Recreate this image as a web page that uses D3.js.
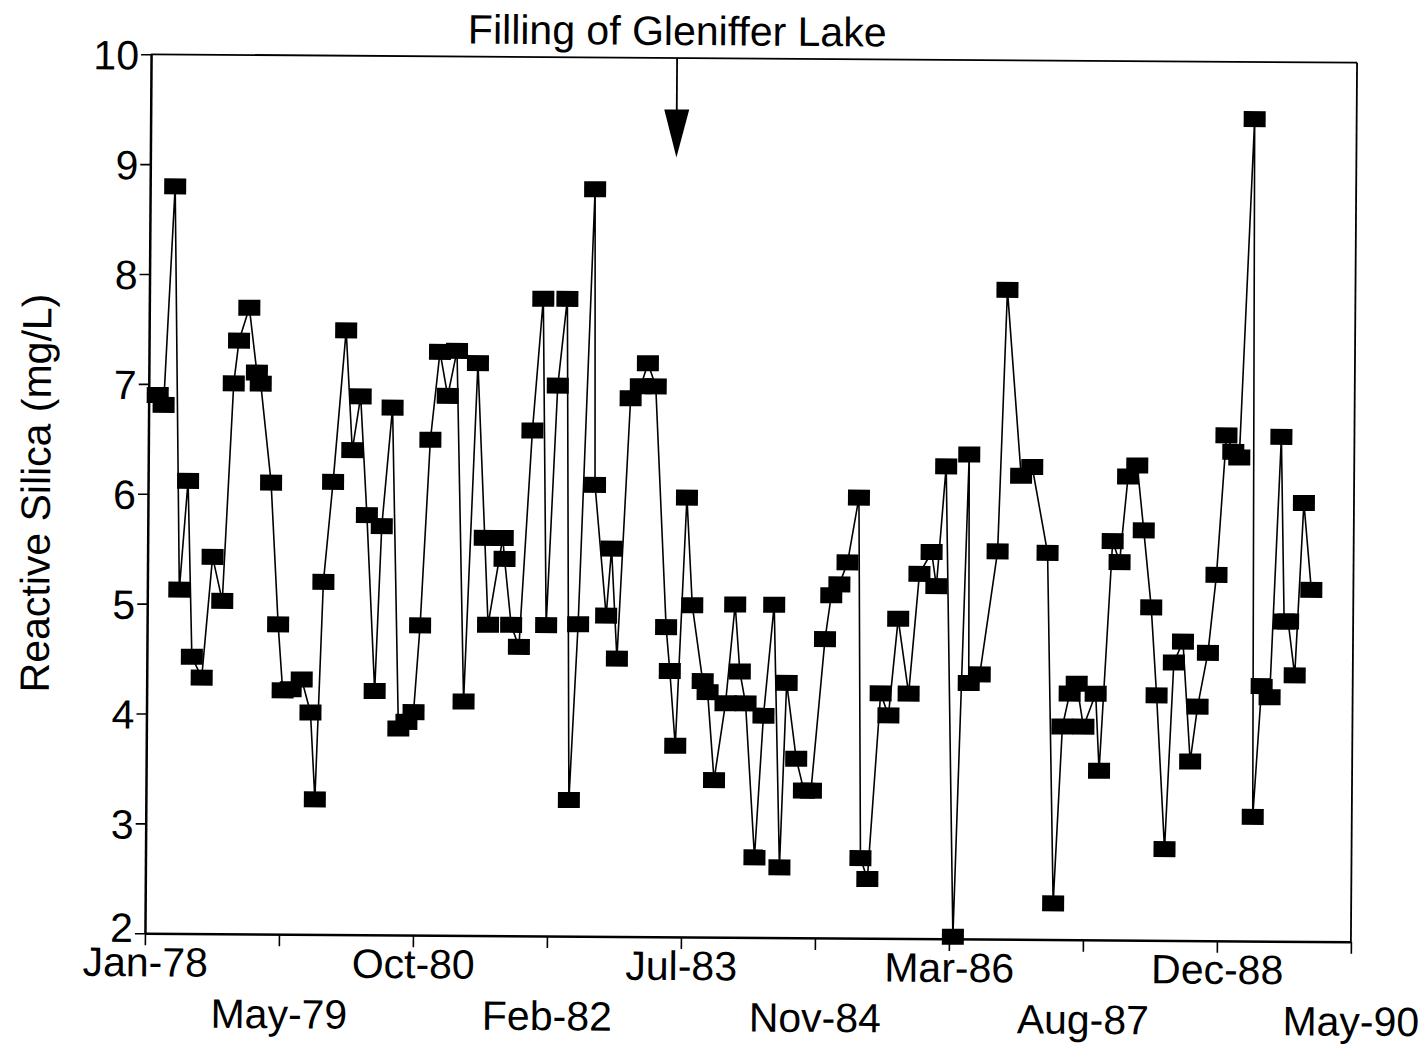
<!DOCTYPE html>
<html>
<head>
<meta charset="utf-8">
<script src="https://cdn.jsdelivr.net/npm/d3@7"></script>
<style>
  html, body { margin: 0; padding: 0; background: #fff; }
  svg { display: block; }
  text { font-family: "Liberation Sans", Arial, Helvetica, sans-serif; fill: #000; }
</style>
</head>
<body>
<svg id="chart" width="1427" height="1046"></svg>
<script>
// Sampling dates (decimal years) and reactive silica (mg/L), Red Deer River
const sampleYears = [
  1978.092, 1978.153, 1978.256, 1978.327, 1978.409, 1978.460, 1978.562, 1978.665, 1978.767, 1978.869,
  1978.920, 1979.023, 1979.105, 1979.145, 1979.258, 1979.340, 1979.391, 1979.473, 1979.585, 1979.677,
  1979.728, 1979.800, 1979.892, 1980.015, 1980.086, 1980.168, 1980.240, 1980.332, 1980.393, 1980.495,
  1980.577, 1980.659, 1980.731, 1980.792, 1980.884, 1980.976, 1981.058, 1981.150, 1981.242, 1981.365,
  1981.447, 1981.487, 1981.631, 1981.651, 1981.723, 1981.804, 1981.927, 1982.029, 1982.081, 1982.183,
  1982.275, 1982.326, 1982.408, 1982.551, 1982.571, 1982.694, 1982.745, 1982.807, 1982.929, 1983.032,
  1983.103, 1983.185, 1983.308, 1983.349, 1983.410, 1983.512, 1983.574, 1983.686, 1983.737, 1983.809,
  1983.921, 1984.013, 1984.065, 1984.126, 1984.228, 1984.310, 1984.412, 1984.484, 1984.545, 1984.648,
  1984.729, 1984.801, 1984.934, 1984.995, 1985.077, 1985.159, 1985.271, 1985.312, 1985.384, 1985.507,
  1985.588, 1985.681, 1985.793, 1985.895, 1986.018, 1986.069, 1986.161, 1986.263, 1986.396, 1986.407,
  1986.519, 1986.693, 1986.775, 1986.928, 1987.041, 1987.204, 1987.286, 1987.368, 1987.440, 1987.511,
  1987.583, 1987.706, 1987.746, 1987.869, 1987.941, 1988.022, 1988.115, 1988.186, 1988.268, 1988.329,
  1988.421, 1988.503, 1988.595, 1988.677, 1988.749, 1988.851, 1988.933, 1989.025, 1989.096, 1989.158,
  1989.291, 1989.321, 1989.403, 1989.485, 1989.587, 1989.628, 1989.669, 1989.740, 1989.822, 1989.904
];
const silica = [
  6.90, 6.81, 8.80, 5.13, 6.12, 4.52, 4.33, 5.43, 5.03, 7.01,
  7.40, 7.70, 7.11, 7.01, 6.11, 4.82, 4.22, 4.23, 4.32, 4.02,
  3.23, 5.21, 6.12, 7.50, 6.41, 6.90, 5.82, 4.22, 5.72, 6.80,
  3.88, 3.94, 4.03, 4.82, 6.51, 7.31, 6.91, 7.32, 4.13, 7.21,
  5.62, 4.83, 5.62, 5.43, 4.83, 4.63, 6.60, 7.80, 4.83, 7.01,
  7.80, 3.24, 4.84, 8.80, 6.11, 4.92, 5.53, 4.53, 6.90, 7.01,
  7.22, 7.01, 4.82, 4.42, 3.74, 6.00, 5.02, 4.33, 4.23, 3.43,
  4.13, 5.03, 4.42, 4.13, 2.73, 4.02, 5.03, 2.64, 4.32, 3.63,
  3.34, 3.34, 4.72, 5.12, 5.22, 5.42, 6.01, 2.73, 2.54, 4.23,
  4.03, 4.91, 4.23, 5.32, 5.52, 5.21, 6.30, 2.02, 6.41, 4.33,
  4.41, 5.53, 7.91, 6.22, 6.30, 5.52, 2.33, 3.94, 4.24, 4.33,
  3.94, 4.24, 3.54, 5.63, 5.44, 6.22, 6.32, 5.73, 5.03, 4.23,
  2.83, 4.53, 4.72, 3.63, 4.13, 4.62, 5.33, 6.60, 6.45, 6.40,
  9.48, 3.13, 4.32, 4.22, 6.59, 4.91, 4.91, 4.42, 5.99, 5.20
];

// Axis extents and labels
const yearDomain = [1978.0, 1990.334];
const xTickLabels = ["Jan-78", "May-79", "Oct-80", "Feb-82", "Jul-83",
                     "Nov-84", "Mar-86", "Aug-87", "Dec-88", "May-90"];
const yTickValues = [2, 3, 4, 5, 6, 7, 8, 9, 10];
const yDomain = [2, 10];

// Annotation
const titleText = "Filling of Gleniffer Lake";
const fillingYear = 1983.38;
const yAxisTitle = "Reactive Silica (mg/L)";

// Layout
const plot = { left: 148, right: 1354, top: 58.5, bottom: 937.5 };
const tilt = 0.4; // slight clockwise skew of the whole figure
const cx = (plot.left + plot.right) / 2, cy = (plot.top + plot.bottom) / 2;
const fontSize = 41;

const svg = d3.select("#chart");
const root = svg.append("g").attr("transform", `rotate(${tilt},${cx},${cy})`);

const x = d3.scaleLinear().domain(yearDomain).range([plot.left, plot.right]);
const y = d3.scaleLinear().domain(yDomain).range([plot.bottom, plot.top]);

const step = (yearDomain[1] - yearDomain[0]) / (xTickLabels.length - 1);
const xTickValues = xTickLabels.map((_, i) => yearDomain[0] + i * step);

// Frame: heavier left/bottom axes, lighter top/right border
root.append("line").attr("x1", plot.left).attr("x2", plot.right)
  .attr("y1", plot.top).attr("y2", plot.top).attr("stroke", "#000").attr("stroke-width", 1.8);
root.append("line").attr("x1", plot.right).attr("x2", plot.right)
  .attr("y1", plot.top).attr("y2", plot.bottom).attr("stroke", "#000").attr("stroke-width", 1.8);

// Y axis
const yAxis = root.append("g")
  .attr("transform", `translate(${plot.left},0)`)
  .call(d3.axisLeft(y).tickValues(yTickValues).tickFormat(d3.format("d"))
    .tickSize(10).tickSizeOuter(0).tickPadding(2));
yAxis.attr("font-family", null).attr("font-size", null);
yAxis.select(".domain").attr("stroke", "#000").attr("stroke-width", 2.5);
yAxis.selectAll(".tick line").attr("stroke", "#000").attr("stroke-width", 1.6);
yAxis.selectAll(".tick text")
  .attr("font-size", fontSize).attr("fill", "#000")
  // the lowest label sits a little higher so it clears the date labels
  .attr("dy", d => d === yDomain[0] ? "0.2em" : "0.36em");

// X axis with staggered labels
const xAxis = root.append("g")
  .attr("transform", `translate(0,${plot.bottom})`)
  .call(d3.axisBottom(x).tickValues(xTickValues)
    .tickFormat((d, i) => xTickLabels[i])
    .tickSize(12).tickSizeOuter(0));
xAxis.attr("font-family", null).attr("font-size", null);
xAxis.select(".domain").attr("stroke", "#000").attr("stroke-width", 2.5);
xAxis.selectAll(".tick line").attr("stroke", "#000").attr("stroke-width", 1.6);
xAxis.selectAll(".tick text")
  .attr("font-size", fontSize).attr("fill", "#000")
  .attr("dy", null)
  .attr("y", (d, i) => i % 2 === 0 ? 43 : 94);

// Series line
const pts = sampleYears.map((t, i) => [t, silica[i]]);
root.append("path")
  .datum(pts)
  .attr("fill", "none")
  .attr("stroke", "#000")
  .attr("stroke-width", 1.6)
  .attr("stroke-linejoin", "round")
  .attr("d", d3.line().x(d => x(d[0])).y(d => y(d[1])));

// Square markers
const mw = 22, mh = 16;
root.append("g").selectAll("rect")
  .data(pts)
  .join("rect")
  .attr("x", d => x(d[0]) - mw / 2)
  .attr("y", d => y(d[1]) - mh / 2)
  .attr("width", mw)
  .attr("height", mh)
  .attr("fill", "#000");

// Annotation arrow marking the reservoir filling
const ax = x(fillingYear);
root.append("line")
  .attr("x1", ax).attr("x2", ax)
  .attr("y1", plot.top).attr("y2", 112)
  .attr("stroke", "#000").attr("stroke-width", 1.8);
root.append("path")
  .attr("d", d3.line()([[ax - 12.5, 110], [ax + 12.5, 110], [ax, 158]]) + "Z")
  .attr("fill", "#000");

root.append("text")
  .attr("x", 674).attr("y", 45.5)
  .attr("text-anchor", "middle")
  .attr("font-size", 41)
  .text(titleText);

// Y axis title
root.append("text")
  .attr("transform", `translate(50,${(plot.top + plot.bottom) / 2}) rotate(-90)`)
  .attr("text-anchor", "middle")
  .attr("font-size", fontSize)
  .text(yAxisTitle);
</script>
</body>
</html>
